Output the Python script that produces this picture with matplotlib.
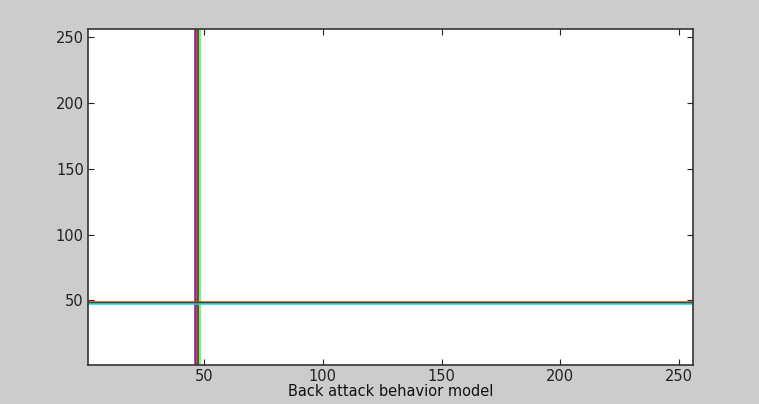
import numpy as np
import matplotlib.pyplot as plt

plt.rcParams['font.family'] = ['DejaVu Sans']

# vertical marker lines (x position, colour)
vline_x = [46.0, 46.7, 47.3, 48.0]
vline_colors = ['#3030ff', '#e00000', '#202020', '#40ff40']

# horizontal marker lines (y position, colour)
hline_y = [49.0, 48.2, 47.3]
hline_colors = ['#e04000', '#303030', '#00e0e0']

xticks = [50, 100, 150, 200, 250]
yticks = [50, 100, 150, 200, 250]
xlabel = 'Back attack behavior model'

fig = plt.figure(figsize=(7.59, 4.04), dpi=100, facecolor='#cccccc')
ax = fig.add_axes([88 / 759, 39 / 404, 605 / 759, 336 / 404])
ax.set_facecolor('white')

for x, c in zip(vline_x, vline_colors):
    ax.axvline(x, color=c, linewidth=1.1)
for y, c in zip(hline_y, hline_colors):
    ax.axhline(y, color=c, linewidth=1.1)

ax.set_xlim(1, 256)
ax.set_ylim(1, 256)
ax.set_xticks(xticks)
ax.set_yticks(yticks)
ax.tick_params(direction='in', length=4, width=0.8, top=True, right=True,
               labelsize=10.5, colors='#222222', pad=3)
for s in ax.spines.values():
    s.set_color('#333333')
    s.set_linewidth(1.2)
ax.set_xlabel(xlabel, fontsize=10.5, labelpad=0, color='#111111')

fig.savefig('out.png', dpi=100, facecolor=fig.get_facecolor())
